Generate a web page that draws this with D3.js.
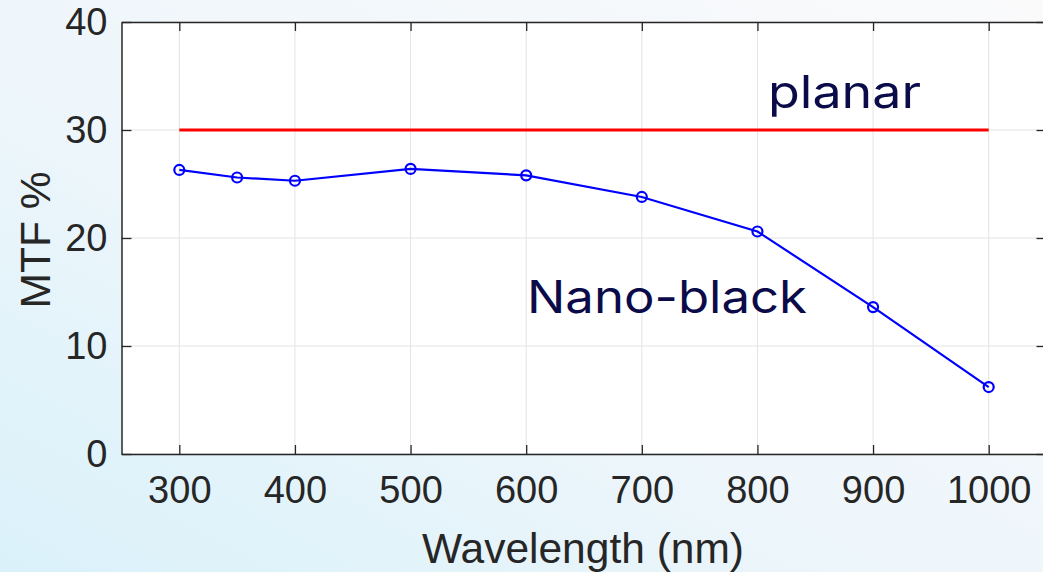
<!DOCTYPE html>
<html>
<head>
<meta charset="utf-8">
<script src="https://cdn.jsdelivr.net/npm/d3@7"></script>
<style>
  html, body { margin: 0; padding: 0; }
  body { width: 1043px; height: 572px; overflow: hidden; }
</style>
</head>
<body>
<div id="chart-area"></div>
<script>
// data
const wavelengths = [300, 350, 400, 500, 600, 700, 800, 900, 1000]
const nanoBlack = [26.3, 25.6, 25.3, 26.4, 25.8, 23.8, 20.6, 13.6, 6.2]
const planarX = [300, 1000]
const planarY = [30, 30]
const xTicks = [300, 400, 500, 600, 700, 800, 900, 1000]
const yTicks = [0, 10, 20, 30, 40]

const svgWidth = 1043
const svgHeight = 572
const margin = { left: 121.5, right: -3.5, top: 22, bottom: 118 }

const svg = d3.select("#chart-area")
  .append("svg")
  .attr("width", svgWidth)
  .attr("height", svgHeight)

// soft background gradient
const defs = svg.append("defs")
const grad = defs.append("linearGradient")
  .attr("id", "bg")
  .attr("x1", "0%").attr("y1", "100%")
  .attr("x2", "100%").attr("y2", "0%")
grad.append("stop").attr("offset", "0%").attr("stop-color", "#daf1fa")
grad.append("stop").attr("offset", "45%").attr("stop-color", "#eef6fb")
grad.append("stop").attr("offset", "100%").attr("stop-color", "#fafafb")
svg.append("rect")
  .attr("width", svgWidth).attr("height", svgHeight)
  .attr("fill", "url(#bg)")

const xScale = d3.scaleLinear().domain([250, 1050]).range([margin.left, svgWidth - margin.right])
const yScale = d3.scaleLinear().domain([0, 40]).range([svgHeight - margin.bottom, margin.top])

const x0 = xScale(250), x1 = xScale(1050)
const y0 = yScale(0), y1 = yScale(40)

svg.append("rect")
  .attr("x", x0).attr("y", y1)
  .attr("width", x1 - x0).attr("height", y0 - y1)
  .attr("fill", "#fff")

// grid
const grid = svg.append("g").attr("stroke", "#e3e3e3").attr("stroke-width", 1)
grid.selectAll(".gx").data(xTicks).join("line")
  .attr("x1", d => xScale(d)).attr("x2", d => xScale(d))
  .attr("y1", y1).attr("y2", y0)
grid.selectAll(".gy").data(yTicks).join("line")
  .attr("x1", x0).attr("x2", x1)
  .attr("y1", d => yScale(d)).attr("y2", d => yScale(d))

// axes, ticks inward on all four sides
const tickFont = "'Liberation Sans', Arial, Helvetica, sans-serif"
const styleAxis = g => {
  g.select(".domain").attr("stroke", "#262626").attr("stroke-width", 1.5)
  g.selectAll(".tick line").attr("stroke", "#262626").attr("stroke-width", 1.3)
  g.selectAll("text").attr("fill", "#262626").attr("font-family", tickFont).attr("font-size", 38)
}

svg.append("g")
  .attr("transform", `translate(0,${y0})`)
  .call(d3.axisBottom(xScale).tickValues(xTicks).tickFormat(d3.format("d"))
    .tickSizeInner(-9).tickSizeOuter(0).tickPadding(22))
  .call(styleAxis)
svg.append("g")
  .attr("transform", `translate(0,${y1})`)
  .call(d3.axisTop(xScale).tickValues(xTicks).tickSizeInner(-9).tickSizeOuter(0).tickFormat(""))
  .call(styleAxis)
svg.append("g")
  .attr("transform", `translate(${x0},0)`)
  .call(d3.axisLeft(yScale).tickValues(yTicks).tickSizeInner(-10).tickSizeOuter(0).tickPadding(14))
  .call(styleAxis)
svg.append("g")
  .attr("transform", `translate(${x1},0)`)
  .call(d3.axisRight(yScale).tickValues(yTicks).tickSizeInner(-10).tickSizeOuter(0).tickFormat(""))
  .call(styleAxis)

// planar reference line
svg.append("path")
  .datum(planarX.map((d, i) => [d, planarY[i]]))
  .attr("fill", "none")
  .attr("stroke", "#ff0000")
  .attr("stroke-width", 3.2)
  .attr("d", d3.line().x(d => xScale(d[0])).y(d => yScale(d[1])))

// nano-black series
const pts = wavelengths.map((d, i) => [d, nanoBlack[i]])
svg.append("path")
  .datum(pts)
  .attr("fill", "none")
  .attr("stroke", "#0000ff")
  .attr("stroke-width", 2.2)
  .attr("d", d3.line().x(d => xScale(d[0])).y(d => yScale(d[1])))

svg.append("g")
  .selectAll("circle")
  .data(pts)
  .join("circle")
  .attr("cx", d => xScale(d[0]))
  .attr("cy", d => yScale(d[1]))
  .attr("r", 5)
  .attr("fill", "none")
  .attr("stroke", "#0000ff")
  .attr("stroke-width", 2.2)

// annotations (wide geometric face in the original, stretched to its width)
const noteFont = "Inter, 'Noto Sans', sans-serif"
svg.append("text")
  .attr("x", 768).attr("y", 108)
  .attr("font-family", noteFont).attr("font-size", 45)
  .attr("textLength", 153).attr("lengthAdjust", "spacingAndGlyphs")
  .attr("fill", "#0b0b4a")
  .text("planar")
svg.append("text")
  .attr("x", 527).attr("y", 313)
  .attr("font-family", noteFont).attr("font-size", 45)
  .attr("textLength", 280).attr("lengthAdjust", "spacingAndGlyphs")
  .attr("fill", "#0b0b4a")
  .text("Nano-black")

// axis titles
svg.append("text")
  .attr("x", 583).attr("y", 563)
  .attr("text-anchor", "middle")
  .attr("font-family", tickFont).attr("font-size", 42.5)
  .attr("fill", "#262626")
  .text("Wavelength (nm)")
svg.append("text")
  .attr("transform", `translate(50,240) rotate(-90)`)
  .attr("text-anchor", "middle")
  .attr("font-family", tickFont).attr("font-size", 42.5)
  .attr("fill", "#262626")
  .text("MTF %")
</script>
</body>
</html>
